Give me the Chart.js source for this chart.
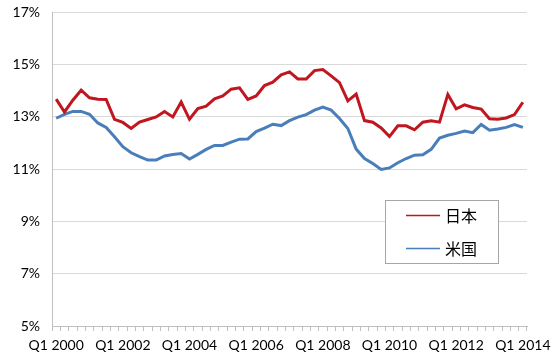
<!DOCTYPE html>
<html>
<head>
<meta charset="utf-8">
<script src="https://cdn.jsdelivr.net/npm/chart.js@4/dist/chart.umd.min.js"></script>
<style>
  html, body { margin: 0; padding: 0; background: #fff; }
  #wrap { position: relative; width: 559px; height: 363px; }
</style>
</head>
<body>
<div id="wrap"><canvas id="chart"></canvas></div>
<script>
// Quarterly categories, Q1 2000 .. Q1 2014
var quarters = [];
for (var y = 2000; y <= 2014; y++) {
	for (var q = 1; q <= 4; q++) {
		if (y === 2014 && q > 1) break;
		quarters.push('Q' + q + ' ' + y);
	}
}

var seriesNames = ['日本', '米国'];

var japan = [
	13.67, 13.18, 13.63, 14.01, 13.72, 13.67, 13.66, 12.90, 12.78, 12.55,
	12.79, 12.89, 12.99, 13.20, 12.99, 13.56, 12.90, 13.31, 13.40, 13.68,
	13.79, 14.05, 14.10, 13.66, 13.79, 14.19, 14.32, 14.60, 14.71, 14.44,
	14.44, 14.76, 14.80, 14.56, 14.30, 13.60, 13.86, 12.85, 12.79, 12.57,
	12.24, 12.65, 12.65, 12.50, 12.79, 12.84, 12.79, 13.85, 13.30, 13.45,
	13.35, 13.29, 12.92, 12.90, 12.95, 13.08, 13.55
];

var usa = [
	12.94, 13.09, 13.20, 13.20, 13.09, 12.76, 12.59, 12.23, 11.85, 11.62,
	11.47, 11.34, 11.34, 11.50, 11.55, 11.59, 11.38, 11.56, 11.75, 11.90,
	11.90, 12.03, 12.14, 12.15, 12.43, 12.56, 12.71, 12.66, 12.85, 12.98,
	13.08, 13.25, 13.37, 13.25, 12.93, 12.55, 11.76, 11.40, 11.21, 10.98,
	11.04, 11.24, 11.40, 11.53, 11.54, 11.75, 12.18, 12.29, 12.36, 12.45,
	12.39, 12.70, 12.48, 12.53, 12.59, 12.70, 12.59
];

var COLORS = {
	red: '#C0161F',
	blue: '#4A7EBB',
	grid: '#D9D9D9',
	axis: '#BFBFBF',
	text: '#000'
};

var FONT = 'Lato, "Open Sans", sans-serif';

// Boxed legend drawn inside the plot area, lower right.
var boxLegend = {
	id: 'boxLegend',
	afterDraw: function (chart) {
		var ctx = chart.ctx;
		ctx.save();
		ctx.fillStyle = '#fff';
		ctx.fillRect(385.5, 200.5, 113, 63);
		ctx.strokeStyle = '#A6A6A6';
		ctx.lineWidth = 1;
		ctx.strokeRect(385.5, 200.5, 113, 63);
		var rows = [
			{ name: seriesNames[0], color: COLORS.red, y: 215.5 },
			{ name: seriesNames[1], color: COLORS.blue, y: 248.5 }
		];
		ctx.font = '16px "Noto Sans CJK JP", sans-serif';
		ctx.textBaseline = 'middle';
		rows.forEach(function (r) {
			ctx.strokeStyle = r.color;
			ctx.lineWidth = 1.5;
			ctx.beginPath();
			ctx.moveTo(406, r.y);
			ctx.lineTo(440, r.y);
			ctx.stroke();
			ctx.fillStyle = COLORS.text;
			ctx.fillText(r.name, 445, r.y);
		});
		ctx.restore();
	}
};

new Chart(document.getElementById('chart'), {
	type: 'line',
	data: {
		labels: quarters,
		datasets: [
			{
				label: seriesNames[0],
				data: japan,
				borderColor: COLORS.red,
				borderWidth: 3,
				pointRadius: 0,
				tension: 0,
				fill: false
			},
			{
				label: seriesNames[1],
				data: usa,
				borderColor: COLORS.blue,
				borderWidth: 3,
				pointRadius: 0,
				tension: 0,
				fill: false
			}
		]
	},
	options: {
		responsive: true,
		maintainAspectRatio: false,
		animation: false,
		layout: { padding: { top: 12, right: 32, left: 0, bottom: 0 } },
		plugins: {
			legend: { display: false },
			tooltip: { enabled: false }
		},
		scales: {
			x: {
				offset: true,
				grid: {
					offset: true,
					drawOnChartArea: false,
					drawTicks: true,
					tickLength: 5,
					color: COLORS.axis
				},
				border: { color: COLORS.axis },
				ticks: {
					autoSkip: false,
					maxRotation: 0,
					minRotation: 0,
					padding: 6,
					color: COLORS.text,
					font: { family: FONT, size: 14 },
					callback: function (val, i) {
						return i % 8 === 0 ? quarters[i] : '';
					}
				},
				afterFit: function (scale) {
					scale.height = 37;
					scale.paddingLeft = 0;
					scale.paddingRight = 0;
				}
			},
			y: {
				min: 5,
				max: 17,
				grid: {
					color: COLORS.grid,
					drawTicks: false,
					lineWidth: 1
				},
				border: { color: COLORS.axis },
				ticks: {
					stepSize: 2,
					padding: 12,
					color: COLORS.text,
					font: { family: FONT, size: 14 },
					callback: function (val) { return val + '%'; }
				},
				afterFit: function (scale) {
					scale.width = 52;
					scale.paddingTop = 0;
					scale.paddingBottom = 0;
				}
			}
		}
	},
	plugins: [boxLegend]
});
</script>
</body>
</html>
